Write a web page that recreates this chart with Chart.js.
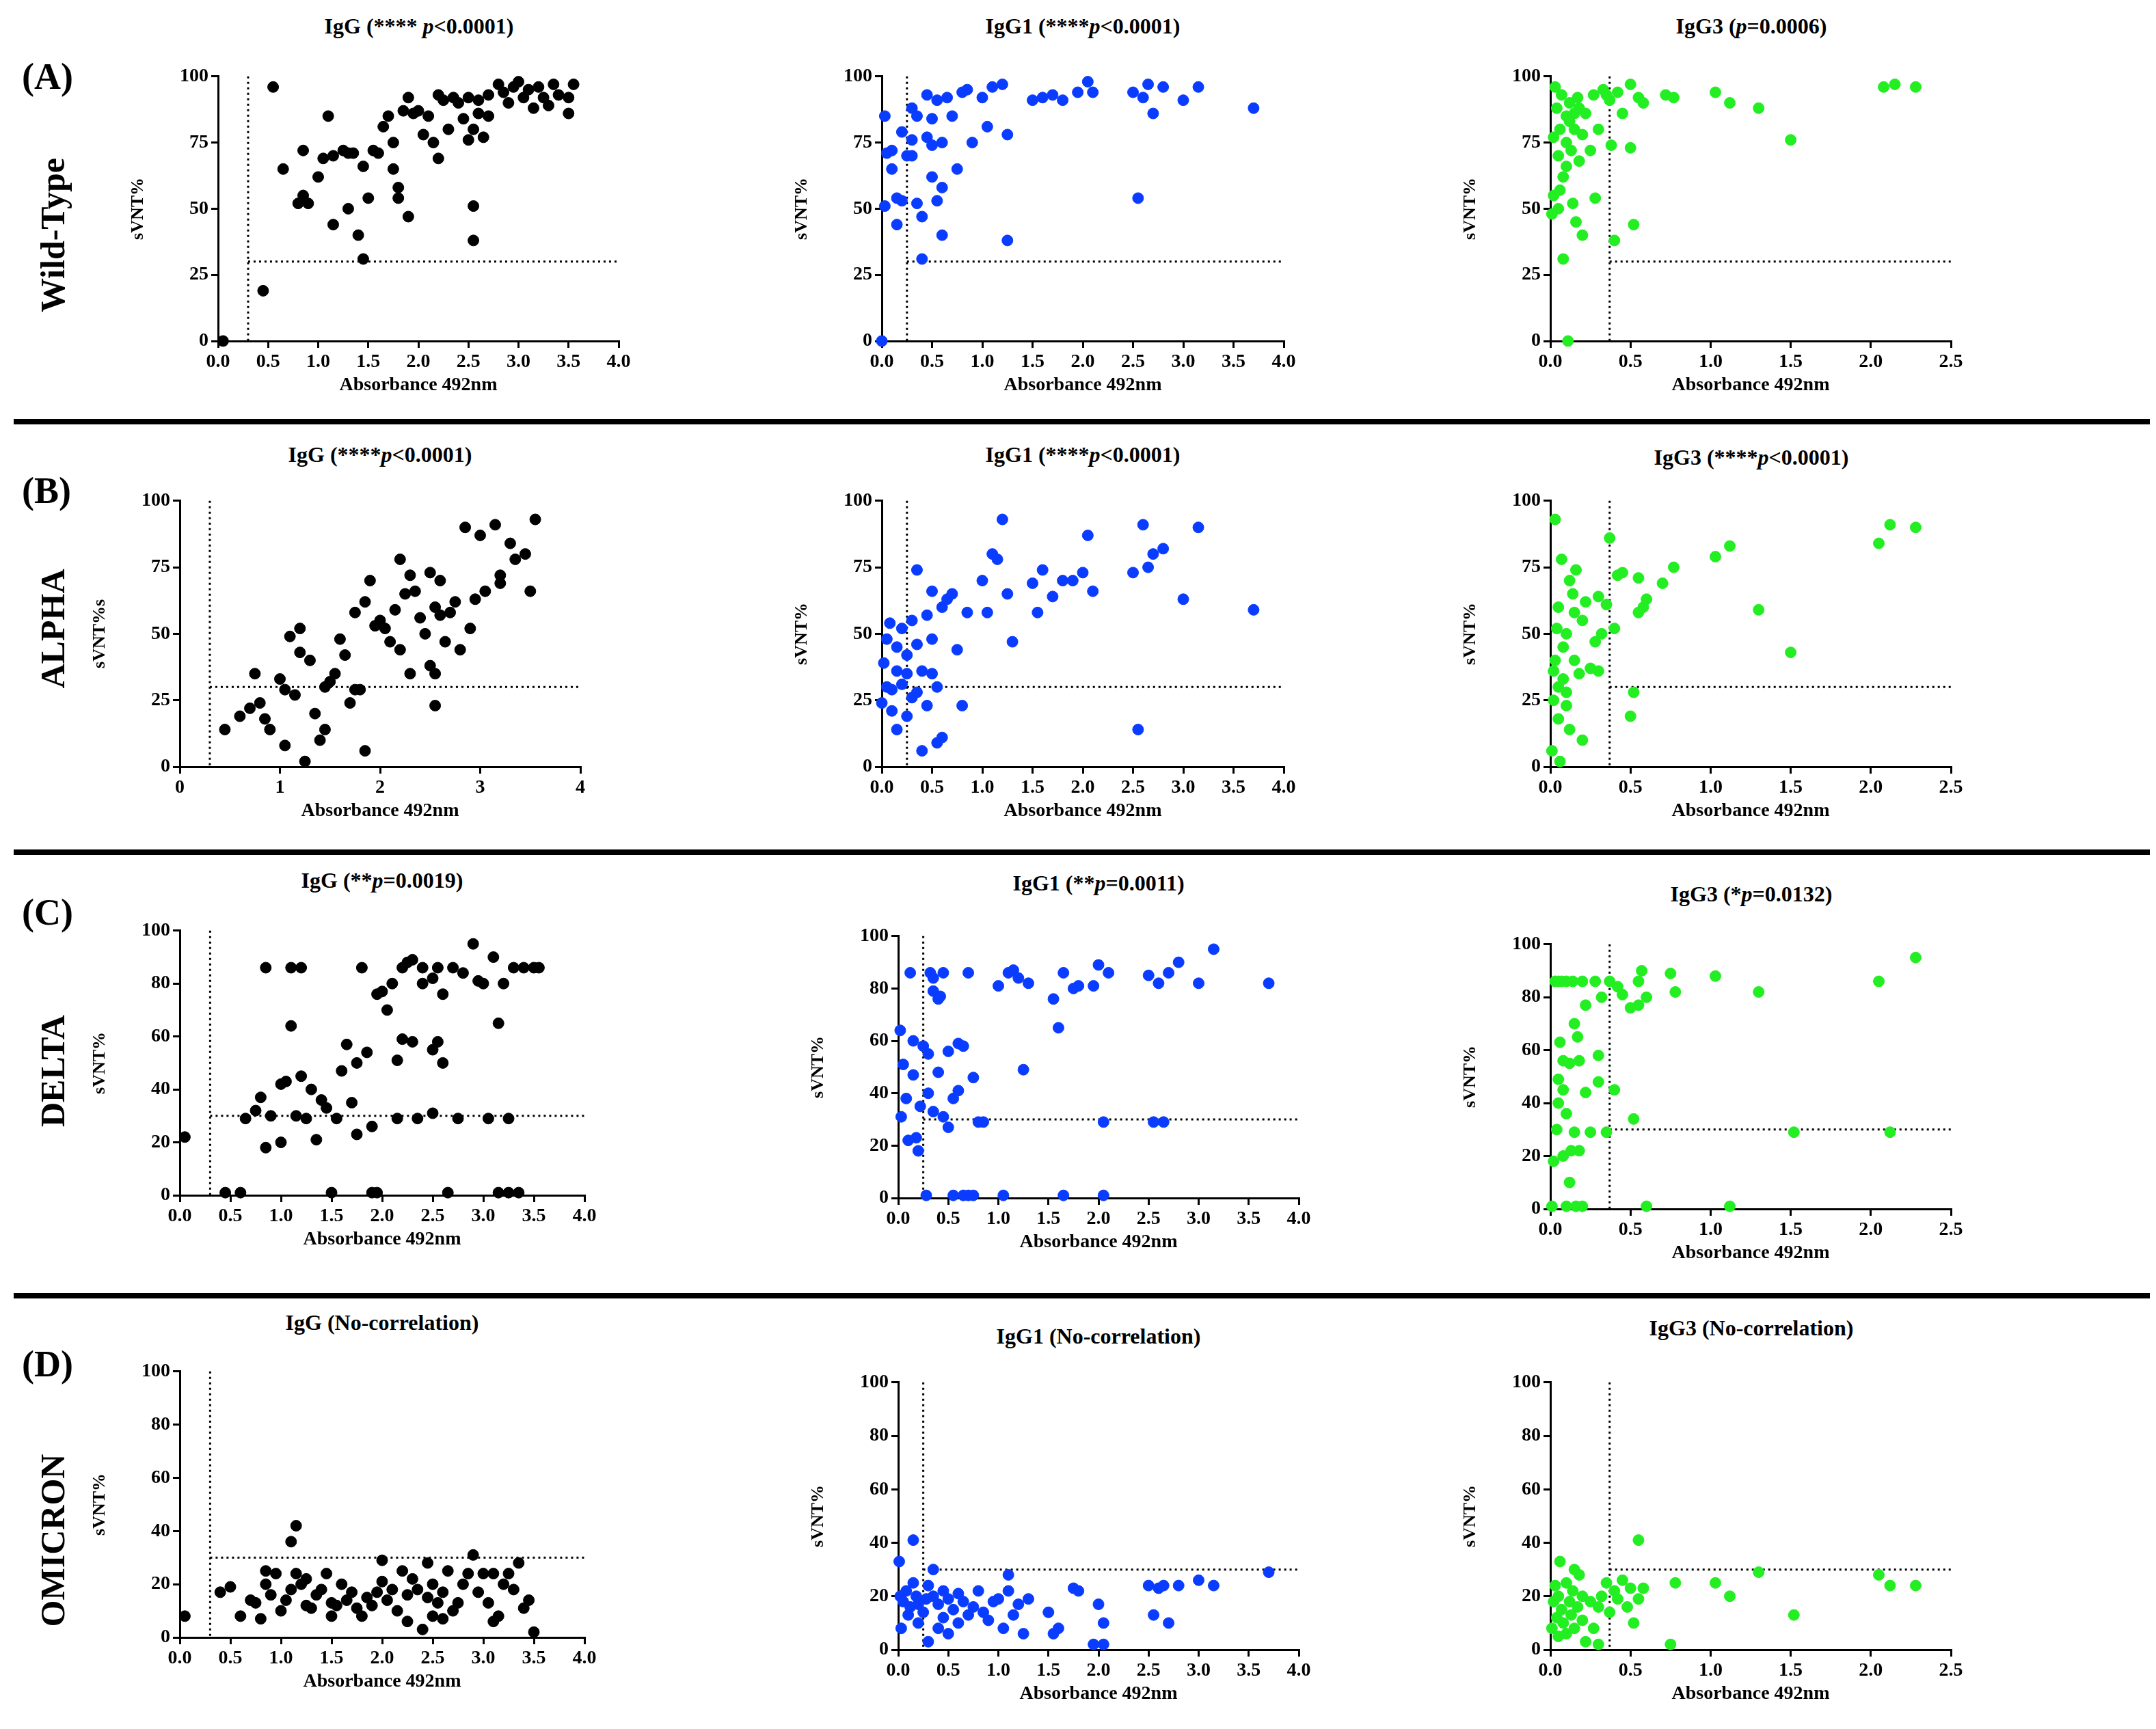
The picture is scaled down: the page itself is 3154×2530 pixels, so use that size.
<!DOCTYPE html>
<html>
<head>
<meta charset="utf-8">
<script src="https://cdn.jsdelivr.net/npm/chart.js@4.4.0/dist/chart.umd.min.js"></script>
<style>
  body { margin: 0; background: #fff; }
  #page { position: relative; width: 3154px; height: 2530px; font-family: "Liberation Serif", serif; font-weight: bold; color: #000; }
  canvas { position: absolute; }
  .title { position: absolute; font-size: 32px; transform: translateX(-50%); white-space: nowrap; }
  .row { position: absolute; font-size: 54px; }
  .variant { position: absolute; font-size: 50px; transform: translate(-50%, -50%) rotate(-90deg); white-space: nowrap; }
  .sep { position: absolute; left: 20px; width: 3125px; height: 8px; background: #000; }
</style>
</head>
<body>
<div id="page"></div>
<script>
// data: [absorbance, sVNT%]
const wtIgG = [[0.05,0],[0.45,19],[0.55,96],[0.65,65],[0.8,52],[0.85,72],[0.85,55],[0.9,52],[1.0,62],[1.05,69],[1.1,85],[1.15,70],[1.15,44],[1.25,72],[1.3,50],[1.3,71],[1.35,71],[1.4,40],[1.45,31],[1.45,66],[1.5,54],[1.55,72],[1.6,71],[1.65,81],[1.7,85],[1.75,65],[1.75,75],[1.8,58],[1.8,54],[1.85,87],[1.9,47],[1.9,92],[1.95,86],[2.0,87],[2.05,78],[2.1,85],[2.15,75],[2.2,93],[2.2,69],[2.25,91],[2.3,80],[2.35,92],[2.4,90],[2.45,84],[2.5,76],[2.5,92],[2.55,38],[2.55,51],[2.55,80],[2.6,91],[2.6,86],[2.65,77],[2.7,93],[2.7,85],[2.8,97],[2.85,94],[2.9,90],[2.95,96],[3.0,98],[3.05,92],[3.1,95],[3.15,88],[3.2,96],[3.25,92],[3.3,89],[3.35,97],[3.4,93],[3.5,86],[3.5,92],[3.55,97]];
const wtIgG1 = [[0,0],[0.03,51],[0.03,85],[0.05,71],[0.1,65],[0.1,72],[0.15,54],[0.15,44],[0.2,79],[0.2,53],[0.25,70],[0.3,88],[0.3,76],[0.3,70],[0.35,85],[0.35,52],[0.4,31],[0.4,47],[0.45,93],[0.45,77],[0.5,84],[0.5,74],[0.5,62],[0.55,91],[0.55,53],[0.6,58],[0.6,40],[0.6,75],[0.65,92],[0.7,85],[0.75,65],[0.8,94],[0.85,95],[0.9,75],[1.0,92],[1.05,81],[1.1,96],[1.2,97],[1.25,38],[1.25,78],[1.5,91],[1.6,92],[1.7,93],[1.8,91],[1.95,94],[2.05,98],[2.1,94],[2.5,94],[2.55,54],[2.6,92],[2.65,97],[2.7,86],[2.8,96],[3.0,91],[3.15,96],[3.7,88]];
const wtIgG3 = [[0.01,48],[0.02,55],[0.03,96],[0.04,88],[0.05,70],[0.05,50],[0.06,80],[0.07,93],[0.08,62],[0.08,31],[0.1,85],[0.1,75],[0.1,66],[0.11,0],[0.12,90],[0.13,72],[0.14,52],[0.15,86],[0.15,80],[0.16,45],[0.17,92],[0.18,68],[0.2,40],[0.2,78],[0.22,86],[0.25,72],[0.27,93],[0.28,54],[0.3,80],[0.33,95],[0.35,93],[0.37,91],[0.38,74],[0.4,38],[0.42,94],[0.45,86],[0.5,73],[0.5,97],[0.52,44],[0.55,92],[0.58,90],[0.72,93],[0.77,92],[1.03,94],[1.12,90],[1.3,88],[1.5,76],[2.08,96],[2.15,97],[2.28,96],[0.06,57],[0.12,83],[0.02,77],[0.18,88]];
const alIgG = [[0.45,14],[0.6,19],[0.7,22],[0.75,35],[0.8,24],[0.85,18],[0.9,14],[1.0,33],[1.05,29],[1.05,8],[1.1,49],[1.15,27],[1.2,52],[1.2,43],[1.25,2],[1.3,40],[1.35,20],[1.4,10],[1.45,30],[1.45,14],[1.5,32],[1.55,35],[1.6,48],[1.65,42],[1.7,24],[1.75,58],[1.75,29],[1.8,29],[1.85,6],[1.85,62],[1.9,70],[1.95,53],[2.0,55],[2.05,52],[2.1,47],[2.15,59],[2.2,44],[2.2,78],[2.25,65],[2.3,35],[2.3,72],[2.35,66],[2.4,56],[2.45,50],[2.5,38],[2.5,73],[2.55,23],[2.55,35],[2.55,60],[2.6,70],[2.6,57],[2.65,47],[2.7,58],[2.75,62],[2.8,44],[2.85,90],[2.9,52],[2.95,63],[3.0,87],[3.05,66],[3.15,91],[3.2,72],[3.2,69],[3.3,84],[3.35,78],[3.45,80],[3.5,66],[3.55,93]];
const alIgG1 = [[0,24],[0.02,39],[0.05,48],[0.05,30],[0.08,54],[0.1,29],[0.1,21],[0.15,14],[0.15,45],[0.2,52],[0.2,31],[0.25,42],[0.25,19],[0.3,55],[0.3,26],[0.35,74],[0.35,46],[0.4,36],[0.4,6],[0.45,57],[0.45,23],[0.5,66],[0.5,48],[0.5,35],[0.55,30],[0.55,9],[0.6,11],[0.6,60],[0.65,63],[0.7,65],[0.75,44],[0.8,23],[0.85,58],[1.0,70],[1.05,58],[1.1,80],[1.15,78],[1.2,93],[1.25,65],[1.3,47],[1.5,69],[1.55,58],[1.6,74],[1.7,64],[1.8,70],[1.9,70],[2.0,73],[2.05,87],[2.1,66],[2.5,73],[2.55,14],[2.6,91],[2.65,75],[2.7,80],[2.8,82],[3.0,63],[3.15,90],[3.7,59],[0.25,35],[0.15,36],[0.35,28]];
const alIgG3 = [[0.01,6],[0.02,25],[0.03,93],[0.03,40],[0.04,52],[0.05,30],[0.05,18],[0.06,2],[0.07,78],[0.08,45],[0.08,33],[0.1,50],[0.1,23],[0.12,14],[0.12,70],[0.14,65],[0.15,58],[0.15,40],[0.16,74],[0.18,35],[0.2,55],[0.2,10],[0.22,62],[0.25,37],[0.28,47],[0.3,36],[0.3,64],[0.32,50],[0.35,61],[0.37,86],[0.4,52],[0.42,72],[0.45,73],[0.5,19],[0.52,28],[0.55,58],[0.55,71],[0.58,60],[0.6,63],[0.7,69],[0.77,75],[1.03,79],[1.12,83],[1.3,59],[1.5,43],[2.05,84],[2.12,91],[2.28,90],[0.05,60],[0.1,28],[0.02,36]];
const deIgG = [[0.05,22],[0.45,1],[0.6,1],[0.65,29],[0.75,32],[0.8,37],[0.85,86],[0.85,18],[0.9,30],[1.0,20],[1.0,42],[1.05,43],[1.1,64],[1.1,86],[1.15,30],[1.2,45],[1.2,86],[1.25,29],[1.3,40],[1.35,21],[1.4,36],[1.45,33],[1.5,1],[1.55,29],[1.6,47],[1.65,57],[1.7,35],[1.75,50],[1.75,23],[1.8,86],[1.85,54],[1.9,26],[1.9,1],[1.95,1],[1.95,76],[2.0,77],[2.05,70],[2.1,80],[2.15,51],[2.15,29],[2.2,86],[2.2,59],[2.25,88],[2.3,58],[2.3,89],[2.35,29],[2.4,80],[2.4,86],[2.5,31],[2.5,55],[2.5,82],[2.55,58],[2.55,86],[2.6,76],[2.6,50],[2.65,1],[2.7,86],[2.75,29],[2.8,84],[2.9,95],[2.95,81],[3.0,80],[3.05,29],[3.1,90],[3.15,65],[3.2,80],[3.25,29],[3.3,86],[3.25,1],[3.35,1],[3.15,1],[3.4,86],[3.5,86],[3.55,86]];
const deIgG1 = [[0.02,64],[0.03,31],[0.05,51],[0.08,38],[0.1,22],[0.12,86],[0.15,47],[0.18,23],[0.2,18],[0.22,35],[0.25,58],[0.28,1],[0.3,55],[0.3,40],[0.32,86],[0.35,79],[0.35,33],[0.4,76],[0.4,48],[0.42,77],[0.45,31],[0.45,86],[0.5,56],[0.5,27],[0.55,38],[0.55,1],[0.6,41],[0.6,59],[0.65,1],[0.65,58],[0.7,1],[0.75,46],[0.75,1],[0.8,29],[0.85,29],[0.7,86],[1.0,81],[1.05,1],[1.1,86],[1.15,87],[1.2,84],[1.25,49],[1.3,82],[1.55,76],[1.6,65],[1.65,1],[1.65,86],[1.75,80],[1.8,81],[1.95,81],[2.0,89],[2.05,1],[2.05,29],[2.1,86],[2.5,85],[2.55,29],[2.6,82],[2.65,29],[2.7,86],[2.8,90],[3.0,82],[3.15,95],[3.7,82],[0.15,60],[0.35,84]];
const deIgG3 = [[0.01,1],[0.02,18],[0.03,86],[0.04,30],[0.05,49],[0.05,40],[0.06,63],[0.07,86],[0.08,20],[0.08,45],[0.1,86],[0.1,1],[0.1,36],[0.12,55],[0.13,22],[0.14,86],[0.15,70],[0.15,29],[0.16,1],[0.17,65],[0.18,56],[0.18,22],[0.2,86],[0.2,1],[0.22,77],[0.22,44],[0.25,29],[0.28,86],[0.3,48],[0.3,58],[0.32,80],[0.35,29],[0.37,86],[0.4,45],[0.42,84],[0.45,81],[0.5,76],[0.52,34],[0.55,86],[0.55,77],[0.57,90],[0.6,80],[0.6,1],[0.75,89],[0.78,82],[1.03,88],[1.12,1],[1.3,82],[1.52,29],[2.05,86],[2.12,29],[2.28,95],[0.05,86],[0.12,10],[0.08,56]];
const omIgG = [[0.05,8],[0.4,17],[0.5,19],[0.6,8],[0.7,14],[0.75,13],[0.8,7],[0.85,20],[0.85,25],[0.9,16],[0.95,24],[1.0,10],[1.05,14],[1.1,18],[1.1,36],[1.15,42],[1.15,24],[1.2,20],[1.25,22],[1.25,12],[1.3,11],[1.35,16],[1.4,18],[1.45,24],[1.5,8],[1.5,13],[1.55,12],[1.6,20],[1.65,14],[1.7,17],[1.75,11],[1.8,8],[1.85,15],[1.9,12],[1.95,17],[2.0,29],[2.0,21],[2.05,14],[2.1,18],[2.15,10],[2.2,25],[2.25,16],[2.25,6],[2.3,22],[2.35,18],[2.4,3],[2.45,15],[2.45,28],[2.5,8],[2.5,20],[2.55,13],[2.6,7],[2.6,17],[2.65,25],[2.7,10],[2.75,13],[2.8,20],[2.85,24],[2.9,31],[2.95,17],[3.0,24],[3.05,13],[3.1,6],[3.1,24],[3.15,8],[3.2,20],[3.25,24],[3.3,18],[3.35,28],[3.4,11],[3.45,14],[3.5,2]];
const omIgG1 = [[0.01,33],[0.02,20],[0.03,8],[0.05,18],[0.08,22],[0.1,13],[0.12,16],[0.15,41],[0.15,25],[0.18,20],[0.2,17],[0.2,10],[0.25,14],[0.28,19],[0.3,3],[0.3,24],[0.35,30],[0.35,20],[0.4,17],[0.4,8],[0.45,22],[0.45,12],[0.5,19],[0.5,6],[0.55,15],[0.6,21],[0.6,10],[0.65,18],[0.7,13],[0.75,16],[0.8,22],[0.85,14],[0.9,11],[0.95,18],[1.0,19],[1.05,8],[1.1,28],[1.1,22],[1.15,13],[1.2,17],[1.25,6],[1.3,19],[1.5,14],[1.55,6],[1.6,8],[1.75,23],[1.8,22],[1.95,2],[2.0,17],[2.05,10],[2.05,2],[2.5,24],[2.55,13],[2.6,23],[2.65,24],[2.7,10],[2.8,24],[3.0,26],[3.15,24],[3.7,29]];
const omIgG3 = [[0.01,8],[0.02,18],[0.03,24],[0.04,12],[0.05,5],[0.05,20],[0.06,33],[0.07,15],[0.08,10],[0.1,25],[0.1,6],[0.12,18],[0.13,13],[0.14,22],[0.15,30],[0.15,8],[0.17,16],[0.18,28],[0.2,20],[0.2,11],[0.22,3],[0.25,18],[0.27,8],[0.3,16],[0.3,2],[0.32,20],[0.35,25],[0.37,14],[0.4,22],[0.42,19],[0.45,26],[0.48,16],[0.5,23],[0.52,10],[0.55,41],[0.55,19],[0.58,23],[0.75,2],[0.78,25],[1.03,25],[1.12,20],[1.3,29],[1.52,13],[2.05,28],[2.12,24],[2.28,24]];

const cutoffX = { IgG: 0.3, IgG1: 0.25, IgG3: 0.37 };
const cutoffY = 30;
const colors = { IgG: "#000000", IgG1: "#0a3cff", IgG3: "#22ee22" };

const S = 3154 / 1560;
const YW = 140, XH = 84, PT = 20, PR = 40;
const page = document.getElementById("page");

// [data, antibody, xmax, xstep, ystep, ytitle, plot box L,R,T,B (display), title html, title y]
const panels = [
  [wtIgG, "IgG", 4, 0.5, 25, "sVNT%", [158,448,55,247], "IgG (**** <i>p</i>&lt;0.0001)", 10],
  [wtIgG1, "IgG1", 4, 0.5, 25, "sVNT%", [638,929,55,247], "IgG1 (****<i>p</i>&lt;0.0001)", 10],
  [wtIgG3, "IgG3", 2.5, 0.5, 25, "sVNT%", [1122,1412,55,247], "IgG3 (<i>p</i>=0.0006)", 10],
  [alIgG, "IgG", 4, 1, 25, "sVNT%s", [130,420,362,555], "IgG (****<i>p</i>&lt;0.0001)", 320],
  [alIgG1, "IgG1", 4, 0.5, 25, "sVNT%", [638,929,362,555], "IgG1 (****<i>p</i>&lt;0.0001)", 320],
  [alIgG3, "IgG3", 2.5, 0.5, 25, "sVNT%", [1122,1412,362,555], "IgG3 (****<i>p</i>&lt;0.0001)", 322],
  [deIgG, "IgG", 4, 0.5, 20, "sVNT%", [130,423,673,865], "IgG (**<i>p</i>=0.0019)", 628],
  [deIgG1, "IgG1", 4, 0.5, 20, "sVNT%", [650,940,677,867], "IgG1 (**<i>p</i>=0.0011)", 630],
  [deIgG3, "IgG3", 2.5, 0.5, 20, "sVNT%", [1122,1412,683,875], "IgG3 (*<i>p</i>=0.0132)", 638],
  [omIgG, "IgG", 4, 0.5, 20, "sVNT%", [130,423,992,1185], "IgG (No-correlation)", 948],
  [omIgG1, "IgG1", 4, 0.5, 20, "sVNT%", [650,940,1000,1194], "IgG1 (No-correlation)", 958],
  [omIgG3, "IgG3", 2.5, 0.5, 20, "sVNT%", [1122,1412,1000,1194], "IgG3 (No-correlation)", 952]
];

const tickFont = { family: "Liberation Serif", size: 28, weight: "bold" };

const cutoffLines = {
  id: "cutoffLines",
  beforeDatasetsDraw(chart, args, opts) {
    const { ctx, chartArea, scales: { x, y } } = chart;
    const vx = x.getPixelForValue(opts.x);
    const hy = y.getPixelForValue(cutoffY);
    ctx.save();
    ctx.strokeStyle = "#000";
    ctx.lineWidth = 3;
    ctx.setLineDash([3, 5]);
    ctx.beginPath();
    ctx.moveTo(vx, chartArea.top);
    ctx.lineTo(vx, chartArea.bottom);
    ctx.moveTo(vx, hy);
    ctx.lineTo(chartArea.right, hy);
    ctx.stroke();
    ctx.restore();
  }
};

panels.forEach(([data, ab, xmax, xstep, ystep, ytitle, box, title, ty]) => {
  const [L, R, T, B] = box;
  const canvas = document.createElement("canvas");
  const w = Math.round((R - L) * S) + YW + PR;
  const h = Math.round((B - T) * S) + PT + XH;
  canvas.width = w;
  canvas.height = h;
  canvas.style.left = Math.round(L * S - YW) + "px";
  canvas.style.top = Math.round(T * S - PT) + "px";
  page.appendChild(canvas);

  const t = document.createElement("div");
  t.className = "title";
  t.innerHTML = title;
  t.style.left = Math.round((L + R) / 2 * S) + "px";
  t.style.top = Math.round(ty * S) + "px";
  page.appendChild(t);

  const axisCommon = {
    border: { color: "#000", width: 3 },
    grid: { display: true, drawOnChartArea: false, drawTicks: true, tickLength: 10, color: "#000", lineWidth: 3 },
    ticks: { color: "#000", font: tickFont, padding: 4 }
  };

  new Chart(canvas, {
    type: "scatter",
    data: {
      datasets: [{
        data: data.map(p => ({ x: p[0], y: p[1] })),
        backgroundColor: colors[ab],
        borderColor: colors[ab],
        pointRadius: 8,
        clip: false
      }]
    },
    options: {
      responsive: false,
      devicePixelRatio: 1,
      animation: false,
      layout: { padding: { top: PT, right: PR, left: 0, bottom: 0 } },
      plugins: { legend: { display: false }, tooltip: { enabled: false }, cutoffLines: { x: cutoffX[ab] } },
      scales: {
        x: {
          ...axisCommon,
          min: 0, max: xmax,
          ticks: { ...axisCommon.ticks, stepSize: xstep, callback: v => xstep === 1 ? v : v.toFixed(1) },
          title: { display: true, text: "Absorbance 492nm", color: "#000", font: tickFont, padding: 2 },
          afterFit: s => { s.height = XH; }
        },
        y: {
          ...axisCommon,
          min: 0, max: 100,
          ticks: { ...axisCommon.ticks, stepSize: ystep },
          title: { display: true, text: ytitle, color: "#000", font: { ...tickFont, size: 26 }, padding: 8 },
          afterFit: s => { s.width = YW; }
        }
      }
    },
    plugins: [cutoffLines]
  });
});

// row labels, variant names and separators
const rows = [["(A)", 40, "Wild-Type", 170], ["(B)", 340, "ALPHA", 455], ["(C)", 645, "DELTA", 775], ["(D)", 972, "OMICRON", 1115]];
rows.forEach(([lab, ly, name, ny]) => {
  const a = document.createElement("div");
  a.className = "row";
  a.textContent = lab;
  a.style.left = Math.round(16 * S) + "px";
  a.style.top = Math.round(ly * S) + "px";
  page.appendChild(a);
  const v = document.createElement("div");
  v.className = "variant";
  v.textContent = name;
  v.style.left = Math.round(38 * S) + "px";
  v.style.top = Math.round(ny * S) + "px";
  page.appendChild(v);
});
[305, 617, 938].forEach(y => {
  const s = document.createElement("div");
  s.className = "sep";
  s.style.top = Math.round(y * S - 4) + "px";
  page.appendChild(s);
});
</script>
</body>
</html>
